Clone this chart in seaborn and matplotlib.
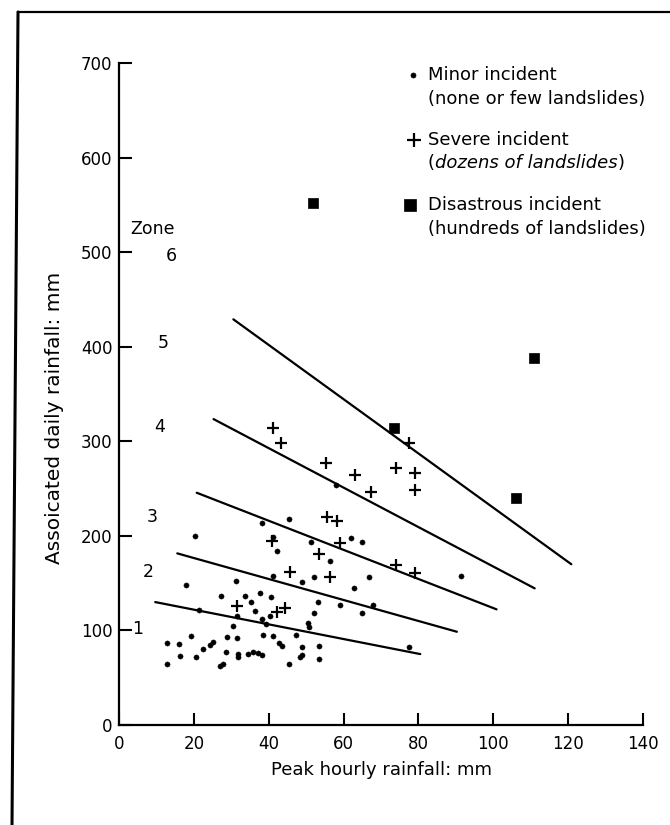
import numpy as np
import pandas as pd
import matplotlib
matplotlib.use("Agg")
import matplotlib.pyplot as plt
from matplotlib.lines import Line2D
import seaborn as sns

# ---------------- data ----------------
minor_x = [20.3, 38.2, 45.5, 41.1, 42.2, 51.3, 56.4, 62.0, 64.8, 58.0,
           17.9, 31.3, 41.1, 48.8, 52.0, 66.8, 62.8, 91.5,
           27.3, 33.5, 35.3, 37.7, 40.5, 36.4, 53.2, 59.0, 52.0, 50.4, 50.6,
           21.4, 31.6, 30.3, 38.2, 39.2, 40.4, 64.8, 67.8, 77.6,
           12.8, 16.0, 19.2, 28.8, 31.4, 38.3, 41.2, 42.8, 43.4, 47.3, 53.4, 48.8,
           16.1, 20.4, 22.3, 24.3, 25.1, 28.4, 31.7, 31.7, 34.5, 35.7, 37.0, 38.1,
           48.4, 48.9, 53.3, 45.4, 12.8, 26.8, 27.6]
minor_y = [200, 214, 218, 199, 184, 194, 173, 198, 194, 254,
           148, 152, 158, 151, 156, 157, 145, 158,
           136, 136, 130, 140, 135, 121, 130, 127, 118, 108, 104,
           122, 115, 105, 112, 107, 115, 118, 127, 82,
           87, 86, 94.5, 93, 92, 95.5, 94, 87, 84, 95.5, 84, 82,
           73, 71.5, 80, 85, 87.5, 77.5, 75.5, 71.5, 75, 77, 76, 74.5,
           71.5, 74.5, 69.5, 65, 65, 62, 64.5]

severe_x = [41.2, 43.3, 55.3, 63.1, 67.3, 74.1, 77.5, 79.1, 79.1, 55.5,
            58.2, 40.8, 59.1, 53.5, 74.1, 79.1, 45.7, 56.4, 31.4, 42.1, 44.4]
severe_y = [313.6, 298.4, 276.6, 264.3, 245.9, 272, 297.8, 266, 248.4, 220.2,
            216, 194.8, 192, 180.8, 169.1, 160.4, 162, 156.8, 126.1, 119.1, 123.4]

disaster_x = [51.8, 110.8, 73.5, 106.0]
disaster_y = [552, 388, 314, 240]

# zone boundary lines (start / end points)
bound_id = ["1/2", "1/2", "2/3", "2/3", "3/4", "3/4", "4/5", "4/5", "5/6", "5/6"]
bound_x = [9.6, 80.5, 15.5, 90.3, 20.7, 100.9, 25.2, 111.1, 30.5, 120.9]
bound_y = [130, 75, 181.5, 98.6, 245.6, 122.3, 323.5, 144.5, 429, 170]

zone_text = ["Zone", "6", "5", "4", "3", "2", "1"]
zone_x = [9.0, 14.0, 11.8, 10.9, 8.8, 7.8, 5.0]
zone_y = [524, 496, 403.5, 315.3, 220, 161.4, 101.5]

x_ticks = [0, 20, 40, 60, 80, 100, 120, 140]
y_ticks = [0, 100, 200, 300, 400, 500, 600, 700]

legend_labels = [("Minor incident", "(none or few landslides)", "normal"),
                 ("Severe incident", "(dozens of landslides)", "italic"),
                 ("Disastrous incident", "(hundreds of landslides)", "normal")]

# ---------------- plot ----------------
sns.set_theme(style="ticks")
plt.rcParams["font.family"] = ["DejaVu Sans"]

fig = plt.figure(figsize=(6.7, 8.25), dpi=100)
fig.patch.set_facecolor("white")
ax = fig.add_axes([0.1781, 0.1212, 0.7812, 0.8024])
ax.set_facecolor("white")

lines_df = pd.DataFrame({"x": bound_x, "y": bound_y, "b": bound_id})
sns.lineplot(data=lines_df, x="x", y="y", units="b", estimator=None,
             color="black", linewidth=1.6, ax=ax, legend=False)

sns.scatterplot(x=minor_x, y=minor_y, color="black", marker="o", s=14,
                edgecolor="black", linewidth=0.3, ax=ax, legend=False)
sns.scatterplot(x=severe_x, y=severe_y, color="black", marker="+", s=85,
                linewidth=1.6, ax=ax, legend=False)
sns.scatterplot(x=disaster_x, y=disaster_y, color="black", marker="s", s=60,
                edgecolor="black", linewidth=0.5, ax=ax, legend=False)

for t, zx, zy in zip(zone_text, zone_x, zone_y):
    ax.text(zx, zy, t, fontsize=12.5, ha="center", va="center", color="black")

ax.set_xlim(0, 140)
ax.set_ylim(0, 700)
ax.set_xticks(x_ticks)
ax.set_yticks(y_ticks)
ax.set_xticklabels([str(v) for v in x_ticks])
ax.set_yticklabels([str(v) for v in y_ticks])
ax.tick_params(axis="both", direction="in", length=9, width=1.5,
               labelsize=12, colors="black")
ax.tick_params(axis="x", pad=7)
ax.tick_params(axis="y", pad=5)

for side in ["top", "right"]:
    ax.spines[side].set_visible(False)
for side in ["left", "bottom"]:
    ax.spines[side].set_linewidth(1.6)
    ax.spines[side].set_color("black")

ax.set_xlabel("Peak hourly rainfall: mm", fontsize=13, color="black", labelpad=6)
ax.set_ylabel("Assoicated daily rainfall: mm", fontsize=14.5, color="black")
ax.yaxis.set_label_coords(-0.105, 0.464)

# legend (manual, two-line entries)
leg_marker_x = [0.5617, 0.563, 0.555]
leg_y1 = [0.982, 0.884, 0.786]
leg_y2 = [0.946, 0.849, 0.749]
leg_markers = [("o", 3.6, 0.5), ("+", 10, 1.6), ("s", 8, 0.5)]
for (l1, l2, st), mx, y1, y2, (mk, ms, mw) in zip(legend_labels, leg_marker_x,
                                                   leg_y1, leg_y2, leg_markers):
    ax.plot([mx], [y1], marker=mk, markersize=ms, markeredgewidth=mw,
            color="black", transform=ax.transAxes, clip_on=False, linestyle="none")
    ax.text(0.589, y1, l1, transform=ax.transAxes, fontsize=13,
            ha="left", va="center", color="black")
    if st == "italic":
        t1 = ax.text(0.589, y2, "(", transform=ax.transAxes, fontsize=13,
                     ha="left", va="center", color="black")
        t2 = ax.annotate("dozens of landslides", xy=(1, 0), xycoords=t1,
                         fontsize=13, style="italic", ha="left", va="bottom",
                         color="black")
        ax.annotate(")", xy=(1, 0), xycoords=t2, fontsize=13,
                    ha="left", va="bottom", color="black")
    else:
        ax.text(0.589, y2, l2, transform=ax.transAxes, fontsize=13,
                ha="left", va="center", color="black")

# page frame (left and top border of the scanned figure)
fig.add_artist(Line2D([18 / 670, 12 / 670], [1 - 12 / 825, 0.0],
                      transform=fig.transFigure, color="black", linewidth=2.2))
fig.add_artist(Line2D([18 / 670, 1.0], [1 - 12 / 825, 1 - 12 / 825],
                      transform=fig.transFigure, color="black", linewidth=1.6))

fig.savefig("out.png", dpi=100, facecolor="white")
